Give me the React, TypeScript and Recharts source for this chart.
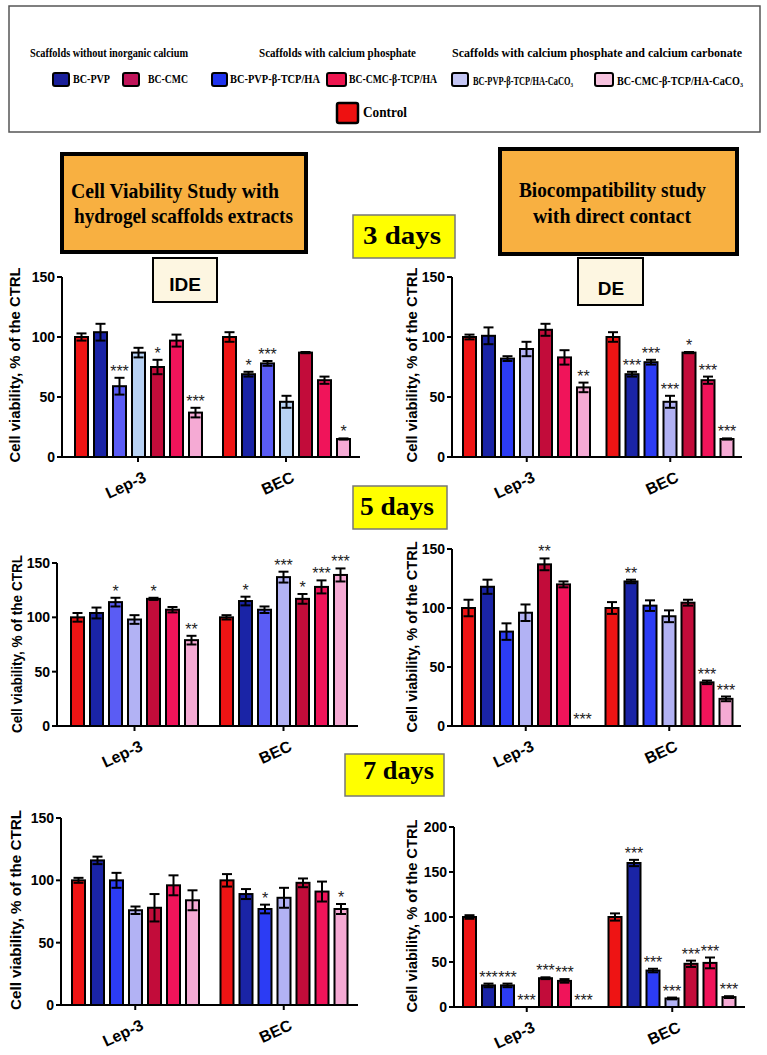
import React from 'react';
import { BarChart, Bar, XAxis, YAxis, ErrorBar } from 'recharts';

// ---------- data ----------
const categories = ['Lep-3', 'BEC'];
const seriesKeys = ['control', 'pvp', 'pvpTcp', 'pvpCa', 'cmc', 'cmcTcp', 'cmcCa'];
const seriesNames = [
  'Control',
  'BC-PVP',
  'BC-PVP-β-TCP/HA',
  'BC-PVP-β-TCP/HA-CaCO3',
  'BC-CMC',
  'BC-CMC-β-TCP/HA',
  'BC-CMC-β-TCP/HA-CaCO3',
];

// 3 days, IDE (extracts)
const ide3Means = [[100, 104, 59, 87, 75, 97, 37], [100, 69, 78, 46, 87, 64, 15]];
const ide3Errors = [[3, 7, 7, 4, 6, 5, 4], [4, 2, 2, 5, 0.5, 3, 0.5]];
const ide3Stars = [['', '', '***', '', '*', '', '***'], ['', '*', '***', '', '', '', '*']];

// 3 days, DE (direct contact)
const de3Means = [[100, 101, 82, 90, 106, 83, 58], [100, 69, 79, 46, 87, 64, 15]];
const de3Errors = [[2, 7, 2, 6, 5, 6, 4], [4, 2, 2, 5, 0.5, 3, 0.5]];
const de3Stars = [['', '', '', '', '', '', '**'], ['', '***', '***', '***', '*', '***', '***']];

// 5 days, IDE
const ide5Means = [[100, 104, 114, 98, 117, 107, 79], [100, 115, 107, 137, 117, 128, 139]];
const ide5Errors = [[4, 5, 4, 4, 1, 2.5, 4], [2, 4, 3, 5, 4.5, 6, 6]];
const ide5Stars = [['', '', '*', '', '*', '', '**'], ['', '*', '', '***', '*', '***', '***']];

// 5 days, DE
const de5Means = [[100, 118, 80, 96, 137, 120, 0], [100, 122.5, 102, 93, 104.5, 37, 23]];
const de5Errors = [[7, 6, 7, 7, 5, 2.5, 0], [5, 1.5, 4.5, 5, 2.5, 1.5, 2]];
const de5Stars = [['', '', '', '', '**', '', '***'], ['', '**', '', '', '', '***', '***']];

// 7 days, IDE
const ide7Means = [[100, 116, 100, 76, 78, 96, 84], [100, 89, 77, 86, 98, 91, 77]];
const ide7Errors = [[2, 3, 6, 3, 11, 8, 8], [5, 4, 3.5, 8, 3.5, 8, 4]];
const ide7Stars = [['', '', '', '', '', '', ''], ['', '', '*', '', '', '', '*']];

// 7 days, DE
const de7Means = [[100, 24, 24, 0, 32, 29, 0], [100, 160, 40.5, 9.5, 48, 49, 11]];
const de7Errors = [[2, 2, 2, 0, 1, 2, 0], [4, 3.5, 2, 1, 3.5, 6, 1]];
const de7Stars = [['', '***', '***', '***', '***', '***', '***'], ['', '***', '***', '***', '***', '***', '***']];

const ticks150 = [0, 50, 100, 150];
const ticks200 = [0, 50, 100, 150, 200];
const yLabel = 'Cell viability, % of the CTRL';

// ---------- styles ----------
const paletteA = ['#ee1414', '#1a24a6', '#5a5cf4', '#b8d2f4', '#c20c3a', '#f0145a', '#f5aad4'];
const paletteB = ['#ee1414', '#1a24a6', '#2c3cf4', '#b2b2f4', '#c20c3a', '#f0145a', '#f5aad4'];
const paletteC = ['#ee1414', '#1a24a6', '#5a5cf4', '#b2b2f4', '#c20c3a', '#f0145a', '#f5aad4'];

const SANS = 'Liberation Sans, Arial, sans-serif';
const SERIF = 'Liberation Serif, Times New Roman, serif';

type PanelCfg = {
  x0: number; x1: number; yTop: number; yBottom: number; yMax: number; ticks: number[];
  means: number[][]; errors: number[][]; stars: string[][]; padLeft: number; colors: string[];
};

const XTick = (props: any) => {
  const { x, y, payload } = props;
  const ex = x + 7;
  const ey = y + 12;
  return (
    <text x={ex} y={ey} dy="0.35em" textAnchor="end" transform={`rotate(-25 ${ex} ${ey})`}
      fontFamily={SANS} fontWeight={700} fontSize={16} fill="#000">{payload.value}</text>
  );
};

function Panel({ cfg }: { cfg: PanelCfg }) {
  const ML = 45, MR = 12, MT = 26, MB = 60;
  const left = cfg.x0 - ML;
  const top = cfg.yTop - MT;
  const width = cfg.x1 - cfg.x0 + ML + MR;
  const height = cfg.yBottom - cfg.yTop + MT + MB;
  const pxPer = (cfg.yBottom - cfg.yTop) / cfg.yMax;
  const data = categories.map((c, i) => {
    const row: any = { name: c };
    seriesKeys.forEach((k, j) => {
      row[k] = cfg.means[i][j];
      row[k + 'Err'] = cfg.errors[i][j];
    });
    return row;
  });
  const shapeFor = (j: number) => (p: any) => {
    const x = Number(p.x), y = Number(p.y), w = Number(p.width), h = Number(p.height);
    const index = p.index;
    const star = cfg.stars[index] ? cfg.stars[index][j] : '';
    const e = (cfg.errors[index] ? cfg.errors[index][j] : 0) * pxPer;
    return (
      <g>
        {h > 0.5 ? <rect x={x} y={y} width={w} height={h} fill={cfg.colors[j]} stroke="#000" strokeWidth={2} /> : null}
        {star ? (
          <text x={x + w / 2} y={y - e - 1} textAnchor="middle" fontSize={16} fontFamily={SANS} fill="#222">{star}</text>
        ) : null}
      </g>
    );
  };
  return (
    <div style={{ position: 'absolute', left, top, width, height }}>
      <BarChart width={width} height={height} data={data} margin={{ top: MT, right: MR, left: 0, bottom: 0 }}
        barSize={13} barGap={6}>
        <XAxis dataKey="name" height={MB} interval={0} padding={{ left: cfg.padLeft, right: 0 }}
          axisLine={{ stroke: '#000', strokeWidth: 2 }} tickLine={{ stroke: '#000', strokeWidth: 2 }}
          tickSize={5} tick={<XTick />} />
        <YAxis width={ML} type="number" domain={[0, cfg.yMax]} ticks={cfg.ticks} interval={0}
          axisLine={{ stroke: '#000', strokeWidth: 2 }} tickLine={{ stroke: '#000', strokeWidth: 2 }}
          tickSize={5} tick={{ fontSize: 14, fontWeight: 700, fill: '#000', fontFamily: SANS }} />
        {seriesKeys.map((k, j) => (
          <Bar key={k} dataKey={k} name={seriesNames[j]} fill={cfg.colors[j]} stroke="#000" strokeWidth={2}
            isAnimationActive={false} shape={shapeFor(j)}>
            <ErrorBar dataKey={k + 'Err'} width={5} strokeWidth={2} stroke="#000" direction="y" />
          </Bar>
        ))}
      </BarChart>
    </div>
  );
}

const panels: PanelCfg[] = [
  { x0: 62, x1: 360, yTop: 277, yBottom: 457, yMax: 150, ticks: ticks150, means: ide3Means, errors: ide3Errors, stars: ide3Stars, padLeft: 2, colors: paletteA },
  { x0: 452, x1: 742, yTop: 277, yBottom: 457, yMax: 150, ticks: ticks150, means: de3Means, errors: de3Errors, stars: de3Stars, padLeft: 3, colors: paletteB },
  { x0: 57, x1: 358, yTop: 563, yBottom: 726, yMax: 150, ticks: ticks150, means: ide5Means, errors: ide5Errors, stars: ide5Stars, padLeft: 3, colors: paletteC },
  { x0: 452, x1: 741, yTop: 549, yBottom: 726, yMax: 150, ticks: ticks150, means: de5Means, errors: de5Errors, stars: de5Stars, padLeft: 2, colors: paletteB },
  { x0: 61, x1: 358, yTop: 818, yBottom: 1005, yMax: 150, ticks: ticks150, means: ide7Means, errors: ide7Errors, stars: ide7Stars, padLeft: 0, colors: paletteB },
  { x0: 454, x1: 745, yTop: 827, yBottom: 1007, yMax: 200, ticks: ticks200, means: de7Means, errors: de7Errors, stars: de7Stars, padLeft: 0, colors: paletteB },
];

const yLabelPos = [
  { x: 15, y: 365, len: 195 },
  { x: 412, y: 365, len: 195 },
  { x: 17, y: 644, len: 178 },
  { x: 412, y: 637, len: 191 },
  { x: 16, y: 910, len: 200 },
  { x: 412, y: 916, len: 193 },
];

const legendItems = [
  { label: 'BC-PVP', sx: 53, sw: 16, tx: 73, tl: 37, color: '#1a1f9a', fs: 13, ty: 83 },
  { label: 'BC-CMC', sx: 123, sw: 16, tx: 148, tl: 40, color: '#c0155a', fs: 13, ty: 83 },
  { label: 'BC-PVP-β-TCP/HA', sx: 212, sw: 15, tx: 230, tl: 90, color: '#1f33ee', fs: 13, ty: 83 },
  { label: 'BC-CMC-β-TCP/HA', sx: 327, sw: 19, tx: 349, tl: 88, color: '#ee1650', fs: 13, ty: 83 },
  { label: 'BC-PVP-β-TCP/HA-CaCO₃', sx: 452, sw: 16, tx: 473, tl: 100, color: '#c4c6f4', fs: 11.5, ty: 85 },
  { label: 'BC-CMC-β-TCP/HA-CaCO₃', sx: 595, sw: 18, tx: 617, tl: 126, color: '#f6c2de', fs: 11.5, ty: 85 },
];

function Overlay() {
  const T = (p: any) => (
    <text x={p.x} y={p.y} textLength={p.len} lengthAdjust="spacingAndGlyphs" fontFamily={p.font || SERIF}
      fontWeight={700} fontSize={p.fs} fill="#000" textAnchor="start">{p.children}</text>
  );
  return (
    <svg width={767} height={1055} style={{ position: 'absolute', left: 0, top: 0, pointerEvents: 'none' }}>
      {/* legend box */}
      <rect x={9} y={6} width={751} height={126} fill="none" stroke="#555" strokeWidth={1.5} />
      <T x={30} y={57} len={158} fs={13}>Scaffolds without inorganic calcium</T>
      <T x={259} y={57} len={157} fs={13}>Scaffolds with calcium phosphate</T>
      <T x={452} y={57} len={290} fs={13}>Scaffolds with calcium phosphate and calcium carbonate</T>
      {legendItems.map((it) => (
        <g key={it.label}>
          <rect x={it.sx} y={73} width={it.sw} height={13} rx={2} fill={it.color} stroke="#000" strokeWidth={2} />
          <T x={it.tx} y={it.ty} len={it.tl} fs={it.fs}>{it.label}</T>
        </g>
      ))}
      <rect x={337} y={103} width={21} height={20} rx={2} fill="#ee1111" stroke="#000" strokeWidth={2.5} />
      <T x={363} y={117} len={44} fs={15}>Control</T>

      {/* study title boxes */}
      <rect x={62} y={154} width={244} height={98} fill="#f8b041" stroke="#000" strokeWidth={4} />
      <T x={71} y={198} len={208} fs={22}>Cell Viability Study with</T>
      <T x={74} y={223} len={219} fs={22}>hydrogel scaffolds extracts</T>
      <rect x={500} y={149} width={237} height={105} fill="#f8b041" stroke="#000" strokeWidth={4} />
      <T x={519} y={197} len={187} fs={22}>Biocompatibility study</T>
      <T x={533} y={223} len={158} fs={22}>with direct contact</T>

      {/* day boxes */}
      <rect x={353} y={215} width={102} height={43} fill="#ffff00" stroke="#777" strokeWidth={1.5} />
      <T x={363} y={244} len={78} fs={25}>3 days</T>
      <rect x={353} y={486} width={94} height={43} fill="#ffff00" stroke="#777" strokeWidth={1.5} />
      <T x={360} y={515} len={74} fs={25}>5 days</T>
      <rect x={345} y={754} width={99} height={42} fill="#ffff00" stroke="#777" strokeWidth={1.5} />
      <T x={363} y={779} len={71} fs={25}>7 days</T>

      {/* IDE / DE boxes */}
      <rect x={153} y={258} width={64} height={44} fill="#fdf6e1" stroke="#000" strokeWidth={2} />
      <text x={185} y={291} textAnchor="middle" fontFamily={SANS} fontWeight={700} fontSize={19} fill="#000">IDE</text>
      <rect x={578} y={258} width={65} height={47} fill="#fdf6e1" stroke="#000" strokeWidth={2} />
      <text x={611} y={295} textAnchor="middle" fontFamily={SANS} fontWeight={700} fontSize={19} fill="#000">DE</text>

      {/* y axis titles */}
      {yLabelPos.map((p, i) => (
        <text key={i} x={p.x} y={p.y} textAnchor="middle" dominantBaseline="central"
          transform={`rotate(-90 ${p.x} ${p.y})`} textLength={p.len} lengthAdjust="spacingAndGlyphs"
          fontFamily={SANS} fontWeight={700} fontSize={14} fill="#000">{yLabel}</text>
      ))}
    </svg>
  );
}

export default function App() {
  return (
    <div style={{ position: 'absolute', left: 0, top: 0, width: 767, height: 1055, background: '#fff', overflow: 'hidden' }}>
      {panels.map((cfg, i) => (
        <Panel key={i} cfg={cfg} />
      ))}
      <Overlay />
    </div>
  );
}
